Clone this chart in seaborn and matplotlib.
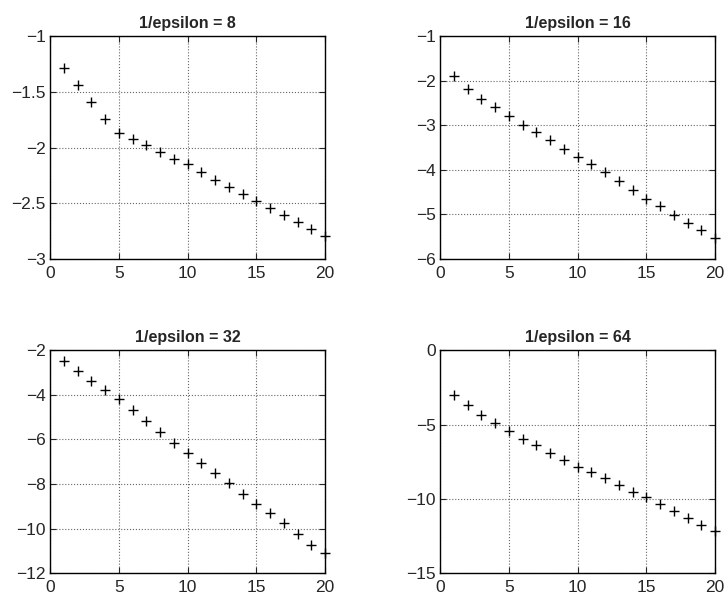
import matplotlib
matplotlib.use('Agg')
import matplotlib.pyplot as plt
import seaborn as sns
import pandas as pd

# iteration index shared by all four panels
steps = list(range(1, 21))

# values, one list per 1/epsilon
eps8 = [-1.29, -1.44, -1.59, -1.74, -1.87, -1.92, -1.98, -2.04, -2.10, -2.15,
        -2.22, -2.29, -2.35, -2.42, -2.48, -2.54, -2.61, -2.67, -2.73, -2.79]
eps16 = [-1.90, -2.18, -2.40, -2.59, -2.79, -2.99, -3.16, -3.34, -3.53, -3.72,
         -3.88, -4.06, -4.26, -4.46, -4.65, -4.82, -5.01, -5.19, -5.36, -5.53]
eps32 = [-2.46, -2.94, -3.36, -3.78, -4.20, -4.70, -5.18, -5.66, -6.14, -6.59,
         -7.04, -7.50, -7.97, -8.45, -8.90, -9.32, -9.77, -10.26, -10.72, -11.12]
eps64 = [-3.02, -3.66, -4.34, -4.91, -5.41, -5.98, -6.39, -6.93, -7.41, -7.86,
         -8.20, -8.59, -9.09, -9.55, -9.91, -10.32, -10.80, -11.27, -11.73, -12.16]

titles = ['1/epsilon = 8', '1/epsilon = 16', '1/epsilon = 32', '1/epsilon = 64']
series = [eps8, eps16, eps32, eps64]
y_ticks = [[-3, -2.5, -2, -1.5, -1],
           [-6, -5, -4, -3, -2, -1],
           [-12, -10, -8, -6, -4, -2],
           [-15, -10, -5, 0]]
x_ticks = [0, 5, 10, 15, 20]


def draw_panel(ax, values, title, yt):
    """
    Draws one panel of '+' markers with a dotted grid.
    """
    df = pd.DataFrame({'step': steps, 'value': values})
    sns.scatterplot(x='step', y='value', data=df, ax=ax, marker='+',
                    color='black', s=50, linewidth=1.0, clip_on=False)
    ax.set_xlim(0, 20)
    ax.set_ylim(yt[0], yt[-1])
    ax.set_xticks(x_ticks)
    ax.set_yticks(yt)
    ax.set_yticklabels([('%g' % t).replace('-', '\u2212') for t in yt])
    ax.grid(True, linestyle=':', color='#666666', linewidth=0.8)
    ax.tick_params(direction='in', length=4, width=0.8, labelsize=12.5,
                   pad=3, bottom=True, left=True, top=True, right=True,
                   labeltop=False, labelright=False)
    ax.tick_params(axis='x', pad=5)
    for side in ax.spines.values():
        side.set_linewidth(1.0)
        side.set_color('black')
    ax.set_xlabel('')
    ax.set_ylabel('')
    ax.set_title(title, fontsize=11.5, fontweight='bold', pad=6)


def main():
    sns.set_style('white')
    plt.rcParams['font.family'] = ['Liberation Sans', 'DejaVu Sans']
    fig, axes = plt.subplots(2, 2, figsize=(7.26, 6.02), dpi=100)
    fig.subplots_adjust(left=0.069, right=0.985, top=0.940, bottom=0.048,
                        wspace=0.418, hspace=0.41)
    for ax, values, title, yt in zip(axes.flat, series, titles, y_ticks):
        draw_panel(ax, values, title, yt)
    plt.savefig('out.png', dpi=100)


if __name__ == '__main__':
    main()
